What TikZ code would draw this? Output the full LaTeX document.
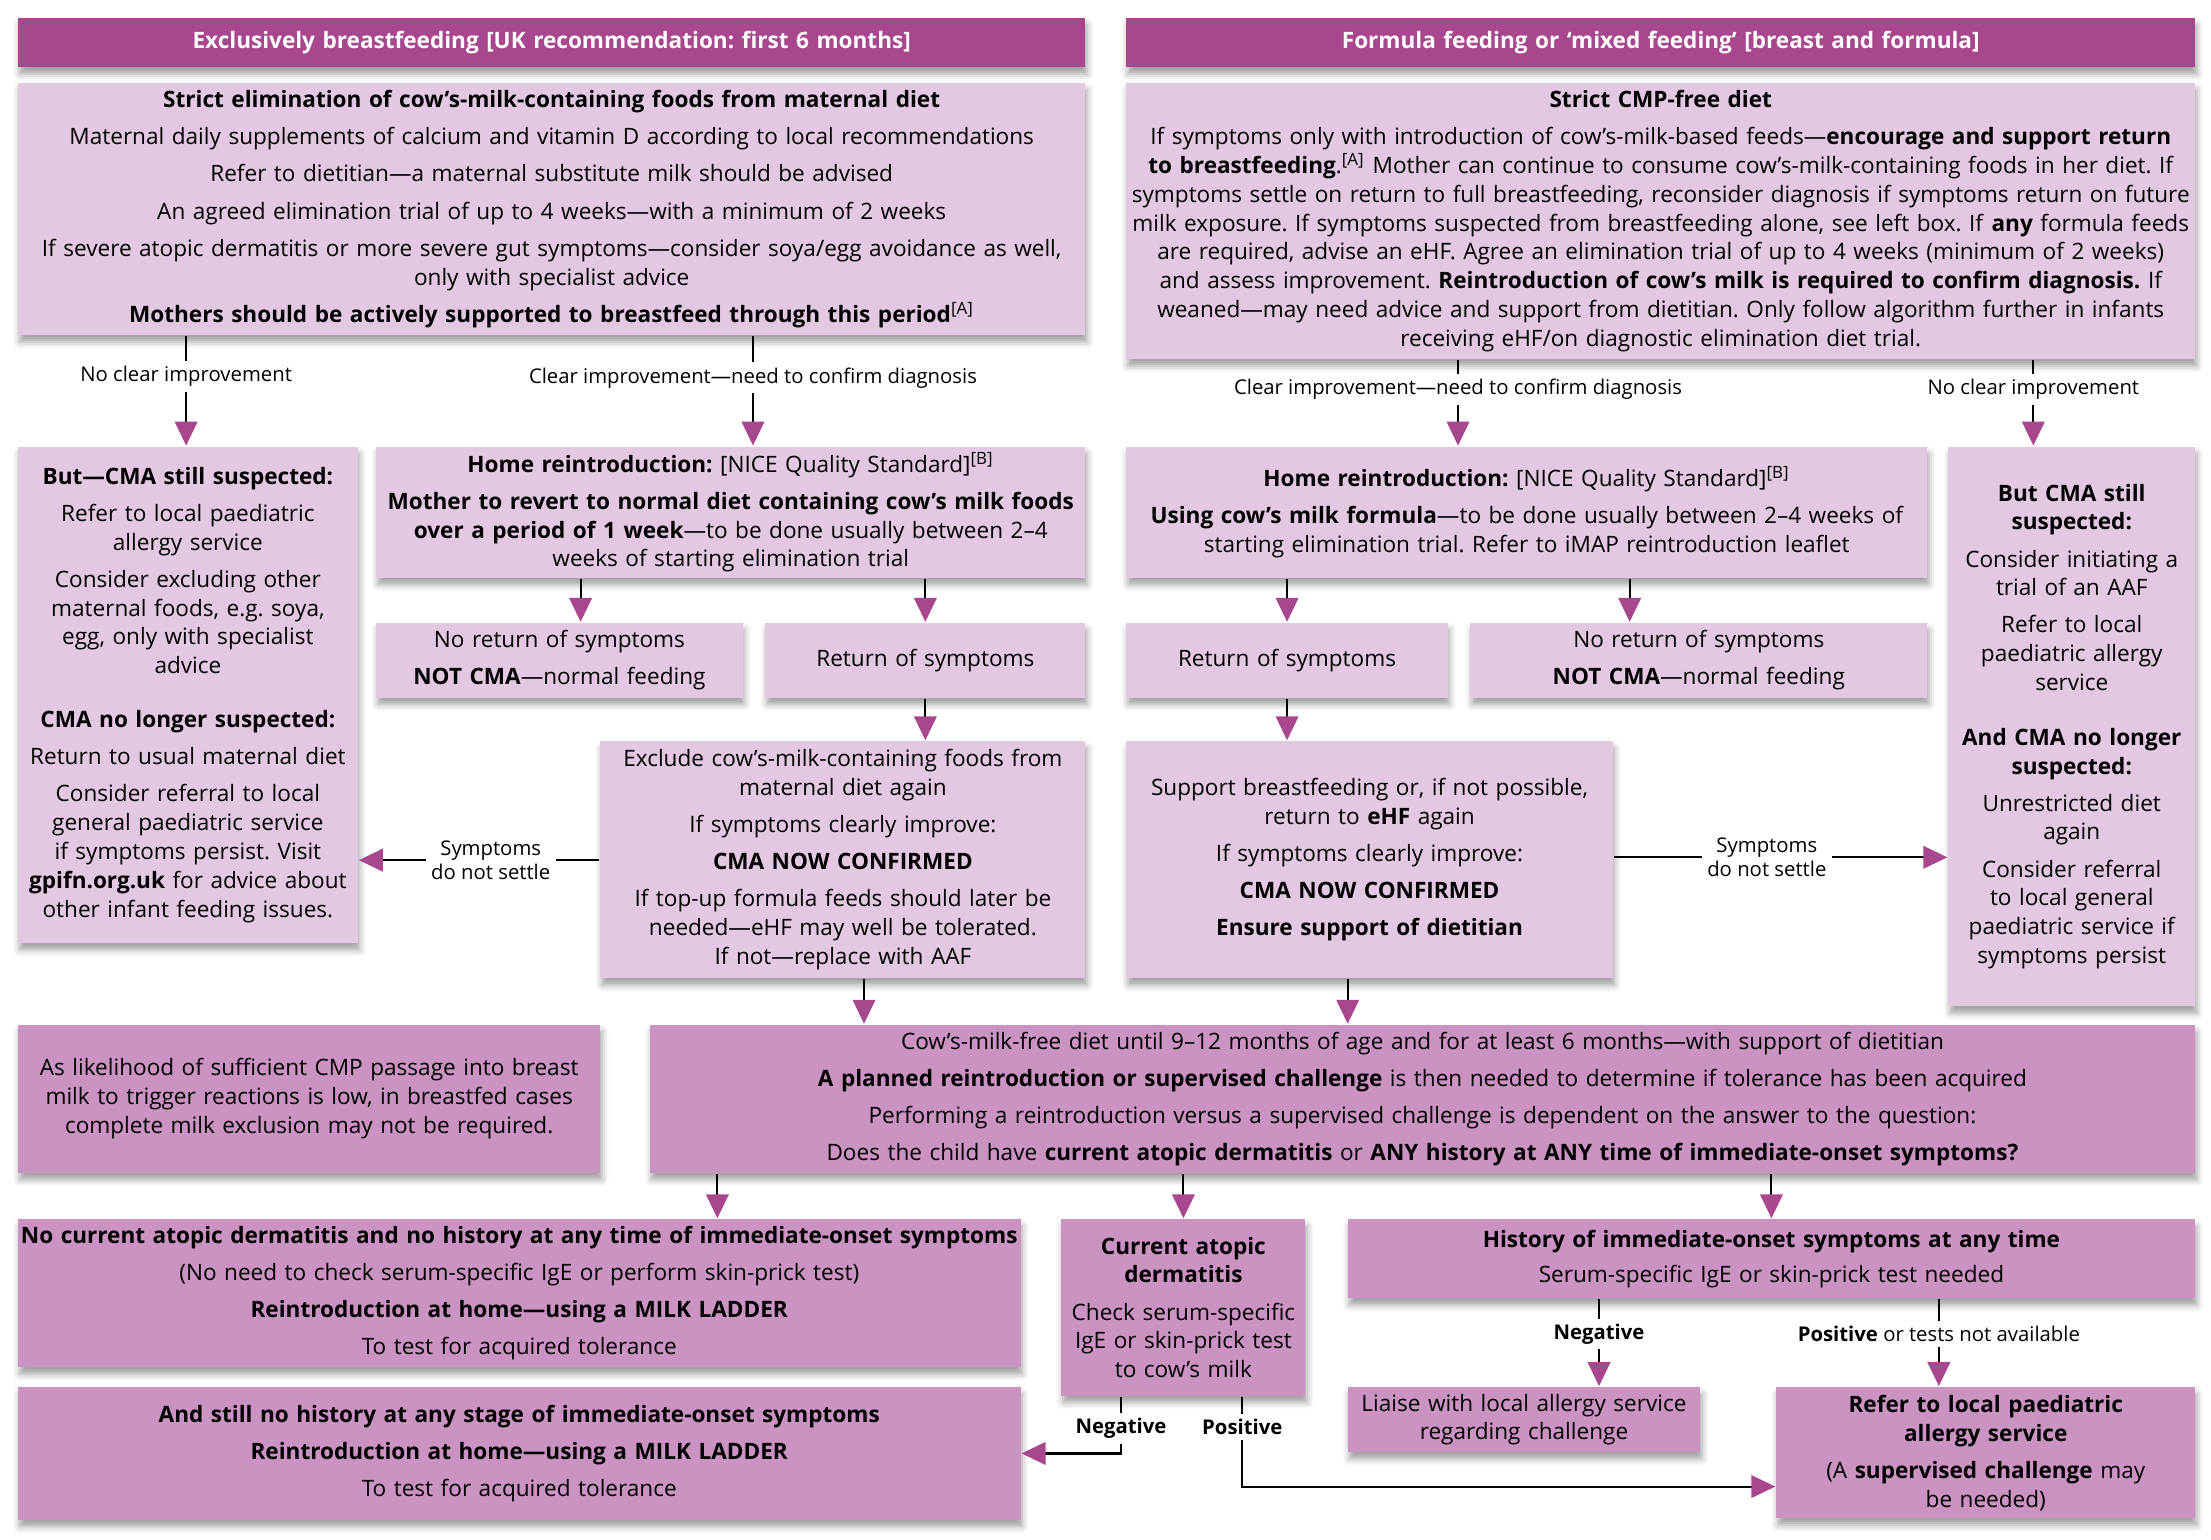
\documentclass[tikz,border=0pt]{standalone}
\usepackage{fontspec}
\setmainfont{Open Sans}
\usetikzlibrary{arrows.meta,shadows.blur}

\definecolor{hdpurple}{RGB}{168,71,141}
\definecolor{lightbox}{RGB}{226,201,225}
\definecolor{darkbox}{RGB}{203,147,193}

\tikzset{every picture/.style={line width=0.75pt}}
\tikzset{
  box/.style={anchor=north west, inner sep=0pt, align=center,
    font=\fontsize{8}{10.25}\selectfont,
    blur shadow={shadow xshift=0.6pt, shadow yshift=-2.4pt, shadow blur radius=2.4pt, shadow opacity=38}},
  lbox/.style={box, fill=lightbox},
  dbox/.style={box, fill=darkbox},
  hbox/.style={box, fill=hdpurple, text=white, font=\fontsize{8}{10}\selectfont\bfseries},
  sz/.style 2 args={text width=#1, minimum height=#2},
  lbl/.style={inner sep=1.5pt, align=center, font=\fontsize{7.2}{8.5}\selectfont},
  arr/.style={-{Triangle[width=8pt,length=8.5pt,color=hdpurple]}},
}

\begin{document}
\frenchspacing
\begin{tikzpicture}[x=0.5pt,y=0.5pt,yscale=-1,xscale=1]
\useasboundingbox (0,0) rectangle (1568,1091.5);

% Headers
\node[hbox, sz={378.5pt}{17.5pt}] (hdBreast) at (12,12) {Exclusively breastfeeding [UK recommendation: first 6 months]};
\node[hbox, sz={379pt}{17.5pt}] (hdFormula) at (798,12) {Formula feeding or ‘mixed feeding’ [breast and formula]};

% Breastfeeding column
\node[lbox, sz={378.5pt}{89.5pt}] (elimBreast) at (12,58) {\textbf{Strict elimination of cow’s-milk-containing foods from maternal diet}\\[2.9pt]
Maternal daily supplements of calcium and vitamin D according to local recommendations\\[2.9pt]
Refer to dietitian—a maternal substitute milk should be advised\\[2.9pt]
An agreed elimination trial of up to 4 weeks—with a minimum of 2 weeks\\[2.9pt]
If severe atopic dermatitis or more severe gut symptoms—consider soya/egg avoidance as well,\\
only with specialist advice\\[2.9pt]
\textbf{Mothers should be actively supported to breastfeed through this period}\textsuperscript{[A]}};

\node[lbox, sz={120.5pt}{176pt}] (stillBreast) at (12,316) {\textbf{But—CMA still suspected:}\\[2.9pt]
Refer to local paediatric\\ allergy service\\[2.9pt]
Consider excluding other\\ maternal foods, e.g. soya,\\ egg, only with specialist\\ advice\\[8.75pt]
\textbf{CMA no longer suspected:}\\[2.9pt]
Return to usual maternal diet\\[2.9pt]
Consider referral to local\\ general paediatric service\\ if symptoms persist. Visit\\ \textbf{gpifn.org.uk} for advice about\\ other infant feeding issues.};

\node[lbox, sz={251.5pt}{46.5pt}] (homeBreast) at (266,316) {\textbf{Home reintroduction:} [NICE Quality Standard]\textsuperscript{[B]}\\[2.9pt]
\textbf{Mother to revert to normal diet containing cow’s milk foods}\\
\textbf{over a period of 1 week}—to be done usually between 2–4\\
weeks of starting elimination trial};

\node[lbox, sz={130pt}{26.5pt}] (noRetBreast) at (266,441) {No return of symptoms\\[2.9pt] \textbf{NOT CMA}—normal feeding};
\node[lbox, sz={113.5pt}{26.5pt}] (retBreast) at (542,441) {Return of symptoms};

\node[lbox, sz={172pt}{84pt}] (excludeBreast) at (425,525) {Exclude cow’s-milk-containing foods from\\ maternal diet again\\[2.9pt]
If symptoms clearly improve:\\[2.9pt]
\textbf{CMA NOW CONFIRMED}\\[2.9pt]
If top-up formula feeds should later be\\ needed—eHF may well be tolerated.\\ If not—replace with AAF};

% Formula column
\node[lbox, sz={379pt}{98pt}] (cmpFree) at (798,58) {\textbf{Strict CMP-free diet}\\[2.9pt]
If symptoms only with introduction of cow’s-milk-based feeds—\textbf{encourage and support return}\\
\textbf{to breastfeeding}.\textsuperscript{[A]} Mother can continue to consume cow’s-milk-containing foods in her diet. If\\
symptoms settle on return to full breastfeeding, reconsider diagnosis if symptoms return on future\\
milk exposure. If symptoms suspected from breastfeeding alone, see left box. If \textbf{any} formula feeds\\
are required, advise an eHF. Agree an elimination trial of up to 4 weeks (minimum of 2 weeks)\\
and assess improvement. \textbf{Reintroduction of cow’s milk is required to confirm diagnosis.} If\\
weaned—may need advice and support from dietitian. Only follow algorithm further in infants\\
receiving eHF/on diagnostic elimination diet trial.};

\node[lbox, sz={284pt}{46.5pt}] (homeFormula) at (798,316) {\textbf{Home reintroduction:} [NICE Quality Standard]\textsuperscript{[B]}\\[2.9pt]
\textbf{Using cow’s milk formula}—to be done usually between 2–4 weeks of\\
starting elimination trial. Refer to iMAP reintroduction leaflet};

\node[lbox, sz={114pt}{26.5pt}] (retFormula) at (798,441) {Return of symptoms};
\node[lbox, sz={162pt}{26.5pt}] (noRetFormula) at (1042,441) {No return of symptoms\\[2.9pt] \textbf{NOT CMA}—normal feeding};

\node[lbox, sz={172.5pt}{84pt}] (ehfFormula) at (798,525) {Support breastfeeding or, if not possible,\\ return to \textbf{eHF} again\\[2.9pt]
If symptoms clearly improve:\\[2.9pt]
\textbf{CMA NOW CONFIRMED}\\[2.9pt]
\textbf{Ensure support of dietitian}};

\node[lbox, sz={87.5pt}{198.5pt}] (stillFormula) at (1381,316) {\textbf{But CMA still}\\ \textbf{suspected:}\\[2.9pt]
Consider initiating a\\ trial of an AAF\\[2.9pt]
Refer to local\\ paediatric allergy\\ service\\[9pt]
\textbf{And CMA no longer}\\ \textbf{suspected:}\\[2.9pt]
Unrestricted diet\\ again\\[2.9pt]
Consider referral\\ to local general\\ paediatric service if\\ symptoms persist};

% Lower part
\node[dbox, sz={206.5pt}{52.5pt}] (noteBreast) at (12,726) {As likelihood of sufficient CMP passage into breast\\ milk to trigger reactions is low, in breastfed cases\\ complete milk exclusion may not be required.};

\node[dbox, sz={548pt}{52.5pt}] (cmFree) at (460,726) {Cow’s-milk-free diet until 9–12 months of age and for at least 6 months—with support of dietitian\\[2.9pt]
\textbf{A planned reintroduction or supervised challenge} is then needed to determine if tolerance has been acquired\\[2.9pt]
Performing a reintroduction versus a supervised challenge is dependent on the answer to the question:\\[2.9pt]
Does the child have \textbf{current atopic dermatitis} or \textbf{ANY history at ANY time of immediate-onset symptoms?}};

\node[dbox, sz={355.5pt}{52.5pt}] (noAD) at (12,864) {\textbf{No current atopic dermatitis and no history at any time of immediate-onset symptoms}\\[2.9pt]
(No need to check serum-specific IgE or perform skin-prick test)\\[2.9pt]
\textbf{Reintroduction at home—using a MILK LADDER}\\[2.9pt]
To test for acquired tolerance};

\node[dbox, sz={86.5pt}{62.5pt}] (curAD) at (752,864) {\textbf{Current atopic}\\ \textbf{dermatitis}\\[2.9pt]
Check serum-specific\\ IgE or skin-prick test\\ to cow’s milk};

\node[dbox, sz={300.5pt}{28pt}] (histIO) at (955,864) {\textbf{History of immediate-onset symptoms at any time}\\[2.2pt]
Serum-specific IgE or skin-prick test needed};

\node[dbox, sz={125pt}{23pt}] (liaise) at (955,983) {Liaise with local allergy service\\ regarding challenge};

\node[dbox, sz={148.5pt}{46.5pt}] (referAllergy) at (1259,983) {\textbf{Refer to local paediatric}\\ \textbf{allergy service}\\[2.9pt]
(A \textbf{supervised challenge} may\\ be needed)};

\node[dbox, sz={355.5pt}{47pt}] (ladder) at (12,983) {\textbf{And still no history at any stage of immediate-onset symptoms}\\[2.9pt]
\textbf{Reintroduction at home—using a MILK LADDER}\\[2.9pt]
To test for acquired tolerance};

% Connector labels
\node[lbl] (lblNoBreast) at (132,267) {No clear improvement};
\node[lbl] (lblYesBreast) at (534,268) {Clear improvement—need to confirm diagnosis};
\node[lbl] (lblYesFormula) at (1034,276) {Clear improvement—need to confirm diagnosis};
\node[lbl] (lblNoFormula) at (1442,276) {No clear improvement};
\node[lbl] (lblSettleBreast) at (348,610) {Symptoms\\do not settle};
\node[lbl] (lblSettleFormula) at (1253,608) {Symptoms\\do not settle};
\node[lbl] (lblNegHist) at (1134,946) {\textbf{Negative}};
\node[lbl] (lblPosHist) at (1375,946) {\textbf{Positive} or tests not available};
\node[lbl] (lblNegAD) at (795,1013) {\textbf{Negative}};
\node[lbl] (lblPosAD) at (881,1012) {\textbf{Positive}};

% Arrow entry points off the box centres
\coordinate (inNoRetBreast) at ([xshift=7.5pt]noRetBreast.north);
\coordinate (outExclude) at ([xshift=7.5pt]excludeBreast.south);
\coordinate (inNoRetFormula) at ([xshift=-24.5pt]noRetFormula.north);
\coordinate (outEhf) at ([xshift=-7.75pt]ehfFormula.south);
\coordinate (inNoAD) at ([xshift=70.25pt]noAD.north);
\coordinate (inReferLow) at ([yshift=12pt]referAllergy.west);

% Connectors
\draw (elimBreast.south -| lblNoBreast) -- (lblNoBreast.north);
\draw[arr] (lblNoBreast.south) -- (stillBreast.north -| lblNoBreast);
\draw (elimBreast.south -| lblYesBreast) -- (lblYesBreast.north);
\draw[arr] (lblYesBreast.south) -- (homeBreast.north -| lblYesBreast);
\draw (cmpFree.south -| lblYesFormula) -- (lblYesFormula.north);
\draw[arr] (lblYesFormula.south) -- (homeFormula.north -| lblYesFormula);
\draw (cmpFree.south -| lblNoFormula) -- (lblNoFormula.north);
\draw[arr] (lblNoFormula.south) -- (stillFormula.north -| lblNoFormula);

\draw[arr] (homeBreast.south -| inNoRetBreast) -- (inNoRetBreast);
\draw[arr] (homeBreast.south -| retBreast.north) -- (retBreast.north);
\draw[arr] (retBreast.south) -- (retBreast.south |- excludeBreast.north);
\draw (excludeBreast.west |- lblSettleBreast) -- (lblSettleBreast.east);
\draw[arr] (lblSettleBreast.west) -- (stillBreast.east |- lblSettleBreast);
\draw[arr] (outExclude) -- (cmFree.north -| outExclude);

\draw[arr] (homeFormula.south -| retFormula.north) -- (retFormula.north);
\draw[arr] (homeFormula.south -| inNoRetFormula) -- (inNoRetFormula);
\draw[arr] (retFormula.south) -- (retFormula.south |- ehfFormula.north);
\draw (ehfFormula.east |- lblSettleFormula) -- (lblSettleFormula.west);
\draw[arr] (lblSettleFormula.east) -- (stillFormula.west |- lblSettleFormula);
\draw[arr] (outEhf) -- (cmFree.north -| outEhf);

\draw[arr] (cmFree.south -| inNoAD) -- (inNoAD);
\draw[arr] (cmFree.south -| curAD.north) -- (curAD.north);
\draw[arr] (cmFree.south -| histIO.north) -- (histIO.north);

\draw (histIO.south -| lblNegHist) -- (lblNegHist.north);
\draw[arr] (lblNegHist.south) -- (liaise.north -| lblNegHist);
\draw (histIO.south -| lblPosHist) -- (lblPosHist.north);
\draw[arr] (lblPosHist.south) -- (referAllergy.north -| lblPosHist);

\draw (curAD.south -| lblNegAD) -- (lblNegAD.north);
\draw[arr] (lblNegAD.south) |- (ladder.east);
\draw (curAD.south -| lblPosAD) -- (lblPosAD.north);
\draw[arr] (lblPosAD.south) |- (inReferLow);
\end{tikzpicture}
\end{document}
